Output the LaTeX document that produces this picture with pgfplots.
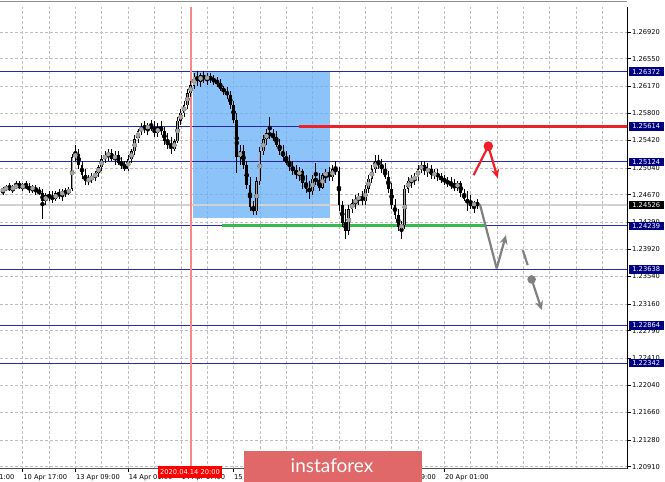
\documentclass[border=0pt]{standalone}
\usepackage{fontspec}
\setmainfont{DejaVu Sans}
\newfontfamily\bannerfont{Lato}
\usepackage{pgfplots}
\pgfplotsset{compat=1.18}
\usepackage{pgfplotstable}
\usetikzlibrary{arrows.meta}
\definecolor{lvl}{RGB}{40,40,175}
\definecolor{lvlbox}{RGB}{0,0,128}
\definecolor{rectblue}{RGB}{102,175,246}
\definecolor{vred}{RGB}{250,135,135}
\definecolor{lred}{RGB}{235,35,40}
\definecolor{lgreen}{RGB}{55,185,75}
\definecolor{arrred}{RGB}{240,30,40}
\definecolor{arrgray}{RGB}{128,128,128}
\definecolor{bannerc}{RGB}{224,104,104}
\definecolor{gridc}{RGB}{190,190,190}
\definecolor{bullin}{RGB}{165,165,165}
\newcommand\tf{\fontsize{6.7}{8}\selectfont}

\pgfplotstableread{
x o h l c
-6 1.2472 1.2477 1.2466 1.2475
-5 1.2475 1.2480 1.2472 1.2477
-4 1.2477 1.2483 1.2472 1.2475
-3 1.2475 1.2480 1.2469 1.2477
-2 1.2477 1.2486 1.2475 1.2480
-1 1.2480 1.2486 1.2475 1.2477
0 1.2477 1.2483 1.2472 1.2480
1 1.2480 1.2486 1.2475 1.2477
2 1.2477 1.2483 1.2469 1.2475
3 1.2475 1.2480 1.2469 1.2477
4 1.2477 1.2480 1.2466 1.2472
5 1.2472 1.2477 1.2466 1.2469
6 1.2469 1.2475 1.2433 1.2458
7 1.2458 1.2469 1.2453 1.2466
8 1.2466 1.2472 1.2458 1.2464
9 1.2464 1.2472 1.2455 1.2461
10 1.2461 1.2472 1.2458 1.2469
11 1.2469 1.2475 1.2461 1.2466
12 1.2466 1.2475 1.2458 1.2472
13 1.2472 1.2477 1.2464 1.2469
14 1.2469 1.2477 1.2466 1.2475
15 1.2475 1.2524 1.2472 1.2519
16 1.2519 1.2536 1.2513 1.2524
17 1.2524 1.2530 1.2502 1.2508
18 1.2508 1.2513 1.2489 1.2494
19 1.2494 1.2502 1.2480 1.2486
20 1.2486 1.2494 1.2480 1.2489
21 1.2489 1.2497 1.2483 1.2491
22 1.2491 1.2500 1.2486 1.2497
23 1.2497 1.2508 1.2491 1.2505
24 1.2505 1.2522 1.2500 1.2516
25 1.2516 1.2527 1.2511 1.2522
26 1.2522 1.2530 1.2513 1.2524
27 1.2524 1.2530 1.2513 1.2516
28 1.2516 1.2527 1.2508 1.2522
29 1.2522 1.2527 1.2508 1.2511
30 1.2511 1.2519 1.2502 1.2508
31 1.2508 1.2513 1.2500 1.2502
32 1.2502 1.2522 1.2500 1.2516
33 1.2516 1.2530 1.2511 1.2527
34 1.2527 1.2549 1.2522 1.2544
35 1.2544 1.2558 1.2538 1.2555
36 1.2555 1.2566 1.2549 1.2560
37 1.2560 1.2569 1.2552 1.2558
38 1.2558 1.2566 1.2549 1.2563
39 1.2563 1.2571 1.2555 1.2558
40 1.2558 1.2569 1.2547 1.2552
41 1.2552 1.2566 1.2547 1.2560
42 1.2560 1.2569 1.2549 1.2555
43 1.2555 1.2560 1.2536 1.2541
44 1.2541 1.2552 1.2530 1.2536
45 1.2536 1.2547 1.2524 1.2530
46 1.2530 1.2544 1.2527 1.2541
47 1.2541 1.2574 1.2538 1.2569
48 1.2569 1.2585 1.2563 1.2580
49 1.2580 1.2596 1.2574 1.2591
50 1.2591 1.2613 1.2585 1.2607
51 1.2607 1.2624 1.2602 1.2618
52 1.2618 1.2635 1.2613 1.2630
53 1.2630 1.2638 1.2618 1.2624
54 1.2624 1.2635 1.2616 1.2632
55 1.2632 1.2638 1.2621 1.2627
56 1.2627 1.2635 1.2618 1.2630
57 1.2630 1.2635 1.2621 1.2627
58 1.2627 1.2632 1.2618 1.2624
59 1.2624 1.2630 1.2616 1.2621
60 1.2621 1.2627 1.2610 1.2613
61 1.2613 1.2618 1.2605 1.2610
62 1.2610 1.2616 1.2599 1.2605
63 1.2605 1.2610 1.2585 1.2591
64 1.2591 1.2596 1.2566 1.2571
65 1.2571 1.2580 1.2497 1.2519
66 1.2519 1.2536 1.2508 1.2527
67 1.2527 1.2536 1.2502 1.2508
68 1.2508 1.2513 1.2475 1.2480
69 1.2480 1.2491 1.2444 1.2450
70 1.2450 1.2458 1.2439 1.2444
71 1.2444 1.2491 1.2439 1.2486
72 1.2486 1.2533 1.2480 1.2527
73 1.2527 1.2549 1.2522 1.2544
74 1.2544 1.2558 1.2536 1.2552
75 1.2552 1.2574 1.2544 1.2549
76 1.2549 1.2558 1.2541 1.2547
77 1.2547 1.2555 1.2533 1.2536
78 1.2536 1.2544 1.2522 1.2527
79 1.2527 1.2536 1.2513 1.2519
80 1.2519 1.2527 1.2508 1.2511
81 1.2511 1.2522 1.2500 1.2505
82 1.2505 1.2513 1.2494 1.2500
83 1.2500 1.2508 1.2489 1.2494
84 1.2494 1.2505 1.2486 1.2500
85 1.2500 1.2502 1.2475 1.2483
86 1.2483 1.2494 1.2469 1.2475
87 1.2475 1.2486 1.2461 1.2472
88 1.2472 1.2494 1.2466 1.2489
89 1.2489 1.2511 1.2480 1.2486
90 1.2486 1.2497 1.2472 1.2477
91 1.2477 1.2497 1.2475 1.2494
92 1.2494 1.2502 1.2483 1.2497
93 1.2497 1.2505 1.2486 1.2491
94 1.2491 1.2508 1.2486 1.2502
95 1.2502 1.2513 1.2494 1.2500
96 1.2500 1.2505 1.2444 1.2453
97 1.2453 1.2458 1.2422 1.2428
98 1.2428 1.2447 1.2406 1.2417
99 1.2417 1.2453 1.2411 1.2447
100 1.2447 1.2461 1.2442 1.2455
101 1.2455 1.2466 1.2447 1.2461
102 1.2461 1.2469 1.2453 1.2464
103 1.2464 1.2472 1.2453 1.2458
104 1.2458 1.2480 1.2453 1.2475
105 1.2475 1.2494 1.2469 1.2489
106 1.2489 1.2508 1.2483 1.2502
107 1.2502 1.2522 1.2497 1.2513
108 1.2513 1.2522 1.2502 1.2508
109 1.2508 1.2516 1.2497 1.2502
110 1.2502 1.2511 1.2489 1.2491
111 1.2491 1.2500 1.2469 1.2475
112 1.2475 1.2483 1.2447 1.2453
113 1.2453 1.2461 1.2433 1.2439
114 1.2439 1.2447 1.2417 1.2422
115 1.2422 1.2431 1.2406 1.2425
116 1.2425 1.2480 1.2419 1.2475
117 1.2475 1.2491 1.2469 1.2486
118 1.2486 1.2494 1.2477 1.2489
119 1.2489 1.2497 1.2480 1.2491
120 1.2491 1.2508 1.2486 1.2502
121 1.2502 1.2513 1.2497 1.2508
122 1.2508 1.2513 1.2494 1.2500
123 1.2500 1.2511 1.2491 1.2502
124 1.2502 1.2508 1.2489 1.2494
125 1.2494 1.2502 1.2489 1.2497
126 1.2497 1.2502 1.2486 1.2491
127 1.2491 1.2497 1.2483 1.2489
128 1.2489 1.2494 1.2480 1.2486
129 1.2486 1.2491 1.2477 1.2483
130 1.2483 1.2491 1.2475 1.2480
131 1.2480 1.2489 1.2472 1.2477
132 1.2477 1.2486 1.2472 1.2483
133 1.2483 1.2486 1.2464 1.2469
134 1.2469 1.2475 1.2458 1.2461
135 1.2461 1.2472 1.2444 1.2455
136 1.2455 1.2466 1.2447 1.2453
137 1.2453 1.2458 1.2442 1.2455
138 1.2455 1.2461 1.2447 1.2453
}\candles

\begin{document}
\begin{tikzpicture}[x=1pt,y=1pt]
\fill[white] (0,0) rectangle (665,482);
\begin{axis}[
  at={(0,18.5)}, anchor=south west,
  width=627pt, height=461.8pt, scale only axis,
  clip mode=individual,
  xmin=-6.89, xmax=183.45, ymin=1.20884, ymax=1.27267,
  axis x line*=bottom, axis y line*=right,
  x axis line style={draw=black!70, line width=0.8pt},
  y axis line style={draw=black, line width=0.8pt},
  tick align=outside, major tick length=3.5pt, minor tick length=0pt,
  tick style={black, line width=0.6pt},
  xtick={0,16,...,128},
  xticklabels={10 Apr 17:00,13 Apr 09:00,14 Apr 01:00,14 Apr 17:00,15 Apr 09:00,16 Apr 01:00,16 Apr 17:00,17 Apr 09:00,20 Apr 01:00},
  minor xtick={8,24,40,56,72,88,104,120,136,144,152,160,168,176},
  ytick={1.20910,1.21280,1.21660,1.22040,1.22410,1.22790,1.23160,1.23540,1.23920,1.24290,1.24670,1.25040,1.25420,1.25800,1.26170,1.26550,1.26920},
  yticklabels={1.20910,1.21280,1.21660,1.22040,1.22410,1.22790,1.23160,1.23540,1.23920,1.24290,1.24670,1.25040,1.25420,1.25800,1.26170,1.26550,1.26920},
  xticklabel style={font=\tf, anchor=north west, inner sep=0pt, xshift=0.5pt, yshift=-2pt},
  yticklabel style={font=\tf, anchor=west, inner sep=0pt, xshift=1.5pt},
  grid=both,
  major grid style={gridc, dash pattern=on 2.5pt off 2.5pt, line width=0.6pt},
  minor grid style={gridc, dash pattern=on 2.5pt off 2.5pt, line width=0.6pt},
]
\addplot[fill=rectblue, fill opacity=0.75, draw=none]
  coordinates {(51.7,1.26372) (93.3,1.26372) (93.3,1.24346) (51.7,1.24346)} -- cycle;

\addplot[black!18, line width=2pt] coordinates {(-7,1.24526) (184,1.24526)};
\addplot[lvl, line width=1pt] coordinates {(-7,1.26372) (184,1.26372)};
\addplot[lvl, line width=1pt] coordinates {(-7,1.25614) (184,1.25614)};
\addplot[lvl, line width=1pt] coordinates {(-7,1.25124) (184,1.25124)};
\addplot[lvl, line width=1pt] coordinates {(-7,1.24239) (184,1.24239)};
\addplot[lvl, line width=1pt] coordinates {(-7,1.23638) (184,1.23638)};
\addplot[lvl, line width=1pt] coordinates {(-7,1.22864) (184,1.22864)};
\addplot[lvl, line width=1pt] coordinates {(-7,1.22342) (184,1.22342)};
\addplot[lred, line width=2.6pt] coordinates {(83.9,1.25614) (184,1.25614)};
\addplot[lgreen, line width=2.8pt] coordinates {(60.6,1.24239) (140.3,1.24239)};

\draw[vred, line width=1.3pt] (axis cs:51.1,1.27267) -- ([yshift=-3pt]axis cs:51.1,1.20884);

\addplot[black, only marks, mark=none,
  error bars/.cd, y dir=both, y explicit, error mark=none,
  error bar style={line width=0.8pt, black}]
  table[x=x, y expr={(\thisrow{h}+\thisrow{l})/2}, y error expr={(\thisrow{h}-\thisrow{l})/2}]{\candles};
\addplot[black, only marks, mark=none,
  error bars/.cd, y dir=both, y explicit, error mark=none,
  error bar style={line width=2.7pt, black}]
  table[x=x, y expr={(\thisrow{o}+\thisrow{c})/2}, y error expr={max(abs(\thisrow{c}-\thisrow{o})/2,0.00004)}]{\candles};
\addplot[bullin, only marks, mark=none,
  restrict expr to domain={\thisrow{c}-\thisrow{o}}{0.00005:1},
  error bars/.cd, y dir=both, y explicit, error mark=none,
  error bar style={line width=1.1pt, bullin}]
  table[x=x, y expr={(\thisrow{o}+\thisrow{c})/2}, y error expr={max(abs(\thisrow{c}-\thisrow{o})/2-0.00007,0)}]{\candles};

\draw[arrred, line width=2.2pt] (axis cs:136.9,1.24941) -- (axis cs:141.35,1.25341);
\draw[arrred, line width=2.2pt, -{Stealth[length=9pt,width=8pt]}] (axis cs:141.35,1.25341) -- (axis cs:144.2,1.24899);
\fill[arrred] (axis cs:141.35,1.25341) circle[radius=4.8pt];
\draw[arrgray, line width=2.2pt] (axis cs:138.8,1.24536) -- (axis cs:143.9,1.23651);
\draw[arrgray, line width=2.2pt, -{Stealth[length=9pt,width=8pt]}] (axis cs:143.9,1.23651) -- (axis cs:146.7,1.24111);
\draw[arrgray, line width=2.2pt] (axis cs:151.8,1.23904) -- (axis cs:153.3,1.23697);
\draw[arrgray, line width=2.2pt, -{Stealth[length=9pt,width=8pt]}] (axis cs:154.5,1.23499) -- (axis cs:157.6,1.23075);
\fill[arrgray] (axis cs:154.5,1.23499) circle[radius=4.3pt];

\node[font=\tf, anchor=north west, inner sep=0pt] at ([xshift=0.5pt,yshift=-5.5pt]axis cs:-16,1.20884) {10 Apr 01:00};

\tikzset{lb/.style={fill=#1, text=white, font=\tf, inner sep=0pt, minimum height=8.5pt, minimum width=35pt, anchor=west}}
\node[lb=lvlbox] at ([xshift=1.5pt]axis cs:183.45,1.26372) {1.26372};
\node[lb=lvlbox] at ([xshift=1.5pt]axis cs:183.45,1.25614) {1.25614};
\node[lb=lvlbox] at ([xshift=1.5pt]axis cs:183.45,1.25124) {1.25124};
\node[lb=black] at ([xshift=1.5pt]axis cs:183.45,1.24526) {1.24526};
\node[lb=lvlbox] at ([xshift=1.5pt]axis cs:183.45,1.24239) {1.24239};
\node[lb=lvlbox] at ([xshift=1.5pt]axis cs:183.45,1.23638) {1.23638};
\node[lb=lvlbox] at ([xshift=1.5pt]axis cs:183.45,1.22864) {1.22864};
\node[lb=lvlbox] at ([xshift=1.5pt]axis cs:183.45,1.22342) {1.22342};
\end{axis}
\draw[black!45, line width=0.8pt] (0,480.6) -- (627,480.6);
\node[fill=red, text=white, font=\tf, inner sep=0pt, minimum width=64pt, minimum height=12pt] at (190,10) {2020.04.14 20:00};
\fill[bannerc] (244,0) rectangle (422,31);
\node[text=white, font=\bannerfont\fontsize{19}{20}\selectfont, anchor=base, inner sep=0pt] at (332,9) {instaforex};
\pgfresetboundingbox
\path[use as bounding box] (0,0) rectangle (665,482);
\end{tikzpicture}
\end{document}
